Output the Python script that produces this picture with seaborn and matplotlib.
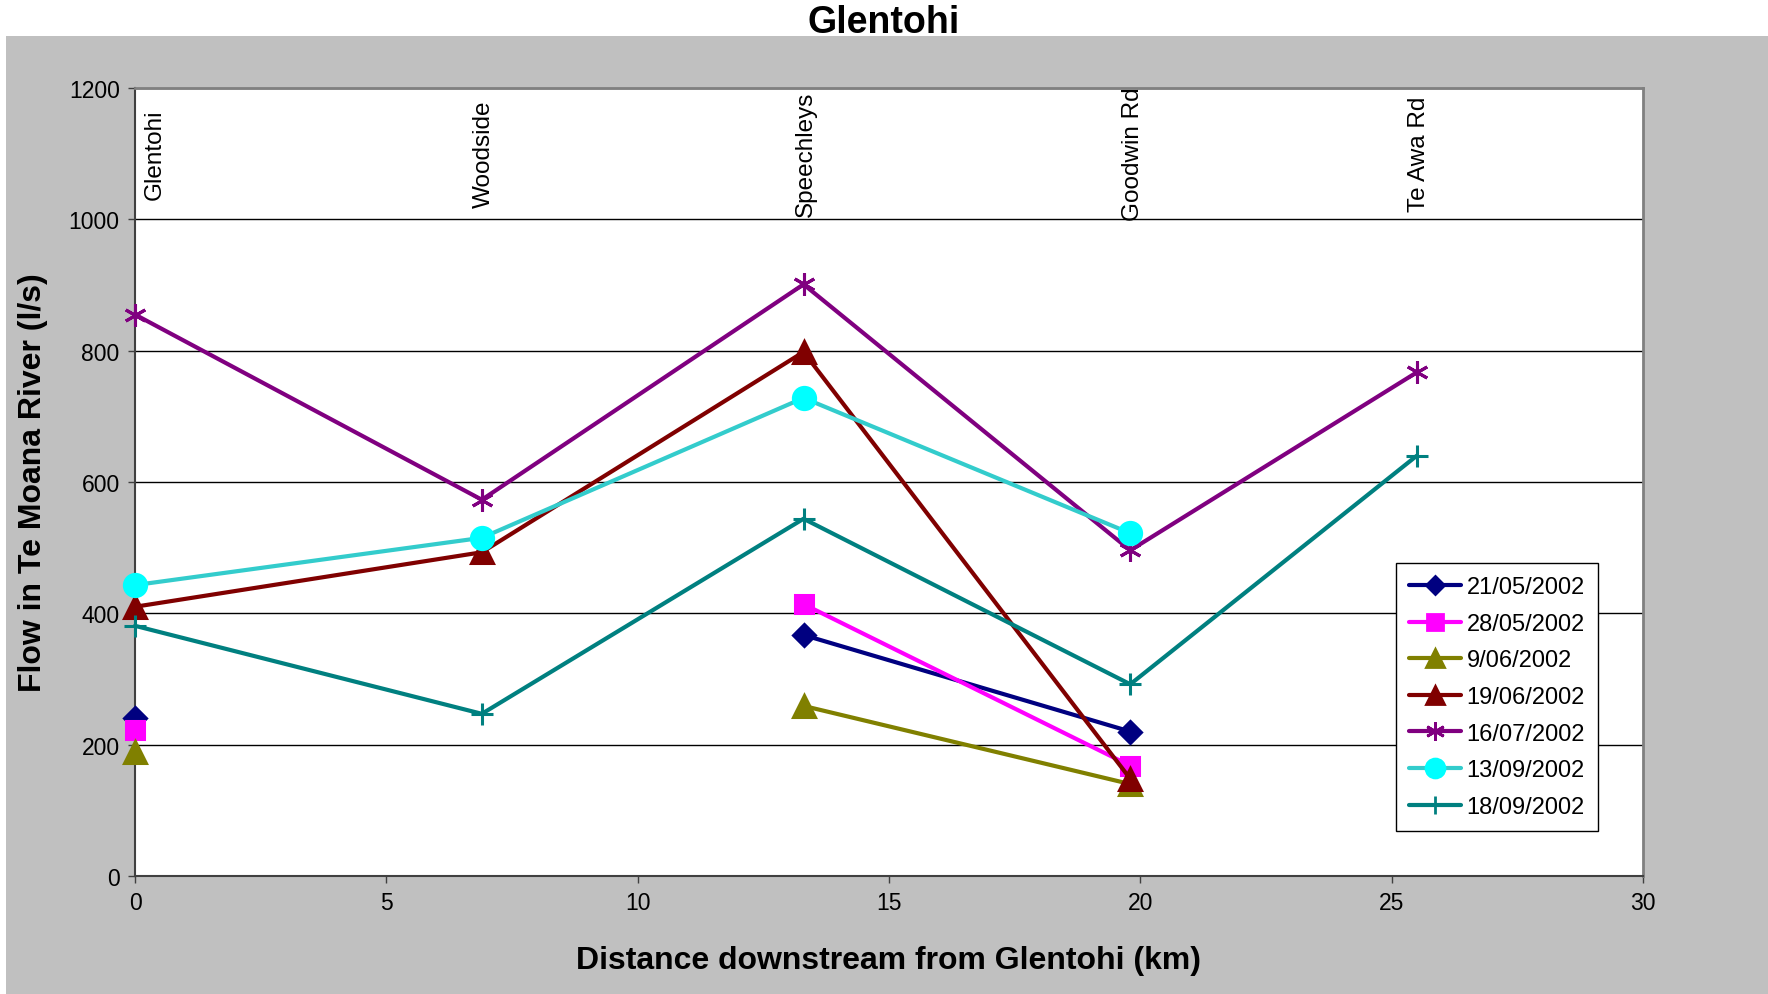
import numpy as np
import seaborn as sns
import matplotlib.pyplot as plt
from matplotlib.patches import Rectangle
from matplotlib.lines import Line2D

nan = np.nan

# Sites along the river and their distance downstream (km)
sites = ['Glentohi', 'Woodside', 'Speechleys', 'Goodwin Rd', 'Te Awa Rd']
distance = [0, 6.9, 13.3, 19.8, 25.5]

# Flow (l/s) per survey date, NaN = no measurement
dates = ['21/05/2002', '28/05/2002', '9/06/2002', '19/06/2002',
         '16/07/2002', '13/09/2002', '18/09/2002']
flow_2105 = [240, nan, 367, 220, nan]
flow_2805 = [223, nan, 414, 168, nan]
flow_0906 = [189, nan, 259, 140, nan]
flow_1906 = [410, 493, 798, 148, nan]
flow_1607 = [855, 573, 901, 496, 767]
flow_1309 = [443, 515, 728, 522, nan]
flow_1809 = [381, 247, 544, 292, 640]
flows = [flow_2105, flow_2805, flow_0906, flow_1906, flow_1607, flow_1309, flow_1809]

# line colour, marker, marker face colour, marker size
styles = [
    ('#000080', 'D', '#000080', 11),
    ('#FF00FF', 's', '#FF00FF', 13),
    ('#808000', '^', '#808000', 16),
    ('#800000', '^', '#800000', 16),
    ('#800080', (6, 2, 0), '#800080', 16),
    ('#33CCCC', 'o', '#00FFFF', 16),
    ('#008080', '+', '#008080', 16),
]

sns.set_theme(style='white')
plt.rcParams['font.family'] = ['Liberation Sans', 'DejaVu Sans']
plt.rcParams['text.color'] = 'black'
plt.rcParams['axes.labelcolor'] = 'black'
plt.rcParams['xtick.color'] = 'black'
plt.rcParams['ytick.color'] = 'black'

fig = plt.figure(figsize=(17.68, 9.95), dpi=100)
fig.patch.set_facecolor('white')
fig.patches.append(Rectangle((0.0034, 0), 0.9966, 1 - 37 / 995, transform=fig.transFigure,
                             facecolor='#C0C0C0', edgecolor='none', zorder=-10))
ax = fig.add_axes([135 / 1768, 1 - 877 / 995, 1508 / 1768, 788 / 995])
ax.set_facecolor('white')

handles = []
for label, y, (col, mk, mfc, ms) in zip(dates, flows, styles):
    y = np.array(y, dtype=float)
    x = np.array(distance)
    # split into contiguous runs so gaps are not bridged
    runs, cur = [], []
    for i in range(len(y)):
        if np.isnan(y[i]):
            if cur:
                runs.append(cur)
            cur = []
        else:
            cur.append(i)
    if cur:
        runs.append(cur)
    for r in runs:
        sns.lineplot(x=x[r], y=y[r], ax=ax, color=col, linewidth=3,
                     marker=mk, markersize=ms, markerfacecolor=mfc,
                     markeredgecolor=mfc, markeredgewidth=2.2,
                     clip_on=False, zorder=3, legend=False)
    handles.append(Line2D([], [], color=col, linewidth=3, marker=mk, markersize=ms * 0.85,
                          markerfacecolor=mfc, markeredgecolor=mfc, markeredgewidth=2,
                          label=label))

# site names along the top
for name, d in zip(sites, distance):
    ax.text(d + (0.4 if d == 0 else 0.05), 1100, name, rotation=90, ha='center',
            va='center', fontsize=17.5, color='black')

ax.set_xlim(0, 30)
ax.set_ylim(0, 1200)
ax.set_xticks(range(0, 31, 5))
ax.set_yticks(range(0, 1201, 200))
ax.tick_params(axis='both', labelsize=16.5, length=5, width=1, color='#404040',
               direction='out', bottom=True, left=True, pad=6)
ax.yaxis.grid(True, color='black', linewidth=1)
ax.set_axisbelow(True)
for side in ['top', 'right']:
    ax.spines[side].set_color('#808080')
    ax.spines[side].set_linewidth(2)
for side in ['left', 'bottom']:
    ax.spines[side].set_color('#404040')
    ax.spines[side].set_linewidth(1.5)

ax.set_xlabel('Distance downstream from Glentohi (km)', fontsize=23, fontweight='bold')
ax.set_ylabel('Flow in Te Moana River (l/s)', fontsize=23, fontweight='bold')
ax.xaxis.set_label_coords(0.5, -0.088)
ax.yaxis.set_label_coords(-0.058, 0.5)

fig.text(0.5, 1 - 23 / 995, 'Glentohi', ha='center', va='center', fontsize=27,
         fontweight='bold')

leg = ax.legend(handles=handles, loc='upper left', bbox_to_anchor=(0.836, 0.397),
                borderaxespad=0, fontsize=17, frameon=True, fancybox=False,
                framealpha=1, edgecolor='black', handlelength=2.2, labelspacing=0.62,
                borderpad=0.55, handletextpad=0.25)
leg.get_frame().set_linewidth(1)

fig.savefig('out.png', dpi=100)
